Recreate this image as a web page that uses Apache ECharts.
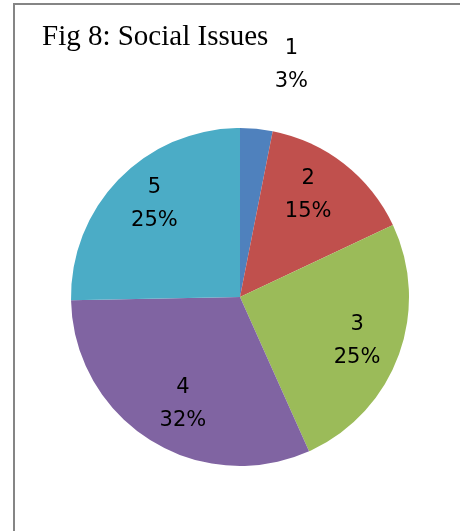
<!DOCTYPE html>
<html>
<head>
<meta charset="utf-8">
<script src="https://cdn.jsdelivr.net/npm/echarts@6/dist/echarts.min.js"></script>
<style>
    html, body { margin: 0; padding: 0; background: #fff; }
    #frame {
        position: absolute; left: 13px; top: 3px; width: 447px; height: 528px;
        border-left: 2px solid #858585; border-top: 2px solid #858585;
    }
    #chart { position: absolute; left: 0; top: 0; width: 460px; height: 531px; }
</style>
</head>
<body>
<div id="frame"></div>
<div id="chart"></div>
<script>
    // slice shares (labels round them)
    var categories = ['1', '2', '3', '4', '5'];
    var shares = [3.1, 14.9, 25.3, 31.4, 25.3];
    var colors = ['#4F81BD', '#C0504D', '#9BBB59', '#8064A2', '#4BACC6'];
    // small nudges so labels sit where Excel put them
    var labelOffsets = [[39, -106], [-10, -2], [-2, 0], [11, 0], [5, -4]];

    var pieData = categories.map(function (c, i) {
        return { name: c, value: shares[i], itemStyle: { color: colors[i] } };
    });
    // transparent copy, only used to place labels further out
    var labelData = categories.map(function (c, i) {
        return { name: c, value: shares[i], label: { offset: labelOffsets[i] } };
    });

    var myChart = echarts.init(document.getElementById('chart'));
    var option = {
        animation: false,
        title: {
            text: 'Fig 8: Social Issues',
            left: 42, top: 23, padding: 0,
            textStyle: { fontFamily: 'Liberation Serif', fontSize: 29, fontWeight: 'normal', color: '#000' }
        },
        series: [{
            type: 'pie',
            center: [240, 297],
            radius: 169,
            startAngle: 90,
            silent: true,
            label: { show: false },
            labelLine: { show: false },
            data: pieData
        }, {
            type: 'pie',
            center: [240, 297],
            radius: 248,
            startAngle: 90,
            silent: true,
            percentPrecision: 0,
            itemStyle: { color: 'rgba(0,0,0,0)' },
            label: {
                show: true,
                position: 'inside',
                formatter: '{b}\n{d}%',
                fontFamily: 'DejaVu Sans',
                fontSize: 21,
                lineHeight: 33,
                color: '#000'
            },
            labelLine: { show: false },
            data: labelData
        }]
    };
    myChart.setOption(option);
</script>
</body>
</html>
